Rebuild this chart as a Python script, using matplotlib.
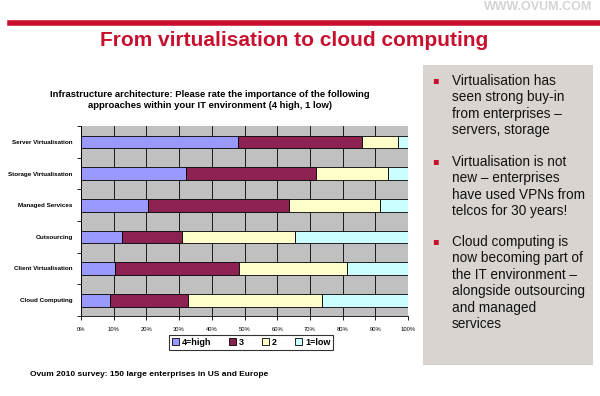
import matplotlib
matplotlib.use("Agg")
from matplotlib import pyplot as plt
from matplotlib.patches import Rectangle
import numpy as np

categories = ["Server Virtualisation", "Storage Virtualisation", "Managed Services",
              "Outsourcing", "Client Virtualisation", "Cloud Computing"]
high4 = [48, 32, 20.5, 12.5, 10.3, 9]
mid3 = [38, 40, 43, 18.3, 38, 23.6]
mid2 = [11, 22, 28, 34.7, 32.9, 41]
low1 = [3, 6, 8.5, 34.5, 18.8, 26.4]
series_names = ["4=high", "3", "2", "1=low"]
series_colors = ["#9999ff", "#8b2252", "#ffffcc", "#ccffff"]
tick_labels = ["0%", "10%", "20%", "30%", "40%", "50%", "60%", "70%", "80%", "90%", "100%"]

bullets = [
    "Virtualisation has\nseen strong buy-in\nfrom enterprises \u2013\nservers, storage",
    "Virtualisation is not\nnew \u2013 enterprises\nhave used VPNs from\ntelcos for 30 years!",
    "Cloud computing is\nnow becoming part of\nthe IT environment \u2013\nalongside outsourcing\nand managed\nservices",
]

plt.rcParams["font.family"] = ["Liberation Sans", "DejaVu Sans"]

W, H = 600, 396
fig = plt.figure(figsize=(6, 3.96), dpi=100)
fig.patch.set_facecolor("white")

# header line, site name and title
fig.add_artist(plt.Line2D([10 / W, 1.0], [1 - 23 / H, 1 - 23 / H], color="#c8102e", lw=4))
fig.text(592 / W, 1 - 7 / H, "WWW.OVUM.COM", ha="right", va="center", color="#d4d4d4",
         fontsize=9, fontweight="bold")
fig.text(294 / W, 1 - 41 / H, "From virtualisation to cloud computing", ha="center", va="center",
         color="#c8102e", fontsize=15, fontweight="bold")

# chart
ax = fig.add_axes([81 / W, 1 - 316 / H, 327 / W, 190 / H])
ax.set_facecolor("#c0c0c0")
y = np.arange(len(categories))
left = np.zeros(len(categories))
for vals, name, col in zip([high4, mid3, mid2, low1], series_names, series_colors):
    ax.barh(y, vals, left=left, height=0.4, color=col, edgecolor="black", lw=0.6, label=name, zorder=3)
    left += np.array(vals)
ax.set_xlim(0, 100)
ax.set_ylim(len(categories) - 0.5, -0.5)
ax.set_xticks(np.arange(0, 101, 10))
ax.set_xticklabels(tick_labels, fontsize=4.2)
ax.set_yticks(np.arange(-0.5, len(categories), 1), minor=True)
ax.set_yticks(y)
ax.set_yticklabels(categories, fontsize=4.5, fontweight="bold")
ax.tick_params(axis="y", which="major", length=0, pad=6)
ax.tick_params(axis="y", which="minor", length=3, width=0.6)
ax.tick_params(axis="x", length=3, width=0.6, pad=5)
ax.grid(axis="x", color="black", lw=0.6, zorder=0)
for s in ["top", "right"]:
    ax.spines[s].set_visible(False)
ax.spines["left"].set_linewidth(0.6)
ax.spines["bottom"].set_linewidth(0.6)

fig.text(210 / W, 1 - 100 / H,
         "Infrastructure architecture: Please rate the importance of the following\n"
         "approaches within your IT environment (4 high, 1 low)",
         ha="center", va="center", fontsize=6.8, fontweight="bold", linespacing=1.25)

leg = fig.legend(loc="center", bbox_to_anchor=(251 / W, 1 - 342.5 / H), ncol=4, fontsize=6.5,
                 frameon=True, fancybox=False, edgecolor="black", handlelength=0.8,
                 handleheight=0.8, columnspacing=2.0, handletextpad=0.3, borderpad=0.3)
leg.get_frame().set_linewidth(0.8)
for t in leg.get_texts():
    t.set_fontweight("bold")

fig.text(30 / W, 1 - 375 / H, "Ovum 2010 survey: 150 large enterprises in US and Europe",
         ha="left", va="center", fontsize=6.0, fontweight="bold")

# right-hand text box
fig.add_artist(Rectangle((423 / W, 1 - 365 / H), 170 / W, 300 / H, transform=fig.transFigure,
                         facecolor="#d9d4d0", edgecolor="none"))
tops = [74, 155, 235]
for top, txt in zip(tops, bullets):
    fig.text(432 / W, 1 - (top + 6) / H, "\u25aa", color="#c8102e", fontsize=7, ha="left", va="center",
             family="DejaVu Sans")
    fig.text(452 / W, 1 - top / H, txt, ha="left", va="top", fontsize=9.8,
             linespacing=1.22, color="#111111")

plt.savefig("out.png", dpi=100)
